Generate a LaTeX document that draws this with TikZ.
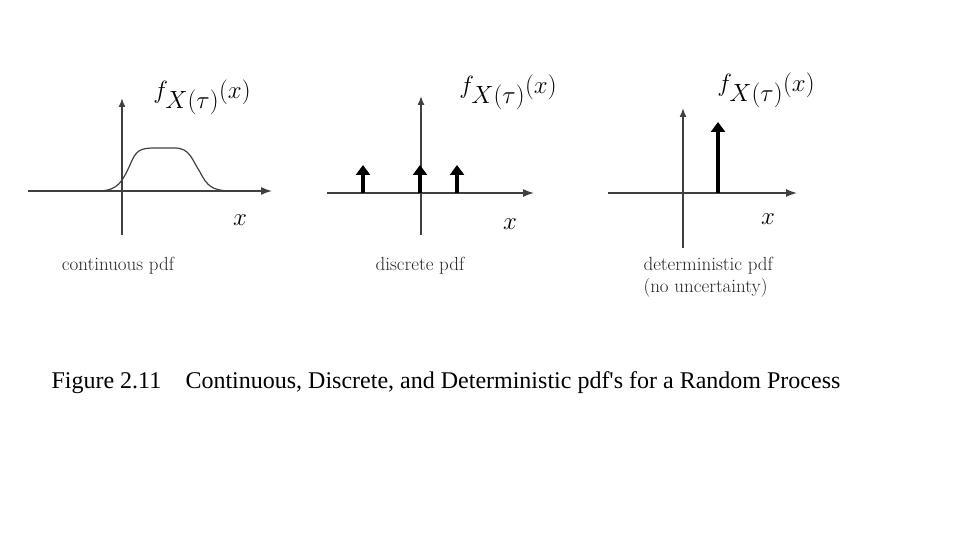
\documentclass[tikz,border=0pt]{standalone}
\usepackage{fontspec}
\newfontfamily\capfont{Liberation Serif}
\usetikzlibrary{arrows.meta}
\begin{document}
\begin{tikzpicture}[x=1pt,y=-1pt,
  ax/.style={draw=black!75,line width=1.5pt,-{Latex[length=11pt,width=8pt]}},
  axv/.style={draw=black!75,line width=1.5pt,-{Latex[length=9pt,width=7pt]}},
  imp/.style={draw=black,line width=3.5pt,-{Triangle[length=10pt,width=14pt]}},
  flab/.style={font=\fontsize{44}{44}\selectfont},
  xlab/.style={font=\fontsize{26}{26}\selectfont},
  small/.style={font=\fontsize{19}{22}\selectfont,text=black!85,align=left},
  captext/.style={font=\capfont\fontsize{24}{26}\selectfont,anchor=west}]
\useasboundingbox (0,0) rectangle (960,540);
% panel 1
\coordinate (a1s) at (28,191); \coordinate (a1e) at (272,191);
\coordinate (v1s) at (122,235); \coordinate (v1e) at (122,98);
\draw[ax] (a1s) -- (a1e);
\draw[axv] (v1s) -- (v1e);
\draw[black!75,line width=1.2pt] (100,191) .. controls (118,190) and (122,182) .. (130,165)
  .. controls (136,150) and (140,148) .. (155,148) -- (175,148)
  .. controls (190,148) and (192,160) .. (200,172) .. controls (207,186) and (212,190) .. (228,191);
\node[flab] (f1) at (202,97) {$f_{X(\tau)}(x)$};
\node[xlab] (x1) at (240,220) {$x$};
\node[small] (l1) at (118,266) {continuous pdf};
% panel 2
\coordinate (a2s) at (327,193); \coordinate (a2e) at (534,193);
\coordinate (v2s) at (421,235); \coordinate (v2e) at (421,96);
\draw[ax] (a2s) -- (a2e);
\draw[axv] (v2s) -- (v2e);
\foreach \i/\xx in {1/363,2/420,3/457}{
  \coordinate (p\i) at (\xx,193); \coordinate (q\i) at (\xx,165);
  \draw[imp] (p\i) -- (q\i);}
\node[flab] (f2) at (508,92) {$f_{X(\tau)}(x)$};
\node[xlab] (x2) at (510,224) {$x$};
\node[small] (l2) at (420,266) {discrete pdf};
% panel 3
\coordinate (a3s) at (608,193); \coordinate (a3e) at (797,193);
\coordinate (v3s) at (683,248); \coordinate (v3e) at (683,108);
\draw[ax] (a3s) -- (a3e);
\draw[axv] (v3s) -- (v3e);
\coordinate (p4) at (718,193); \coordinate (q4) at (718,122);
\draw[imp] (p4) -- (q4);
\node[flab] (f3) at (766,90) {$f_{X(\tau)}(x)$};
\node[xlab] (x3) at (768,219) {$x$};
\node[small,anchor=north west] (l3) at (640,254) {deterministic pdf\\(no uncertainty)};
% caption
\node[captext] (c1) at (48,383) {Figure 2.11};
\node[captext] (c2) at (182,383) {Continuous, Discrete, and Deterministic pdf's for a Random Process};
\end{tikzpicture}
\end{document}
